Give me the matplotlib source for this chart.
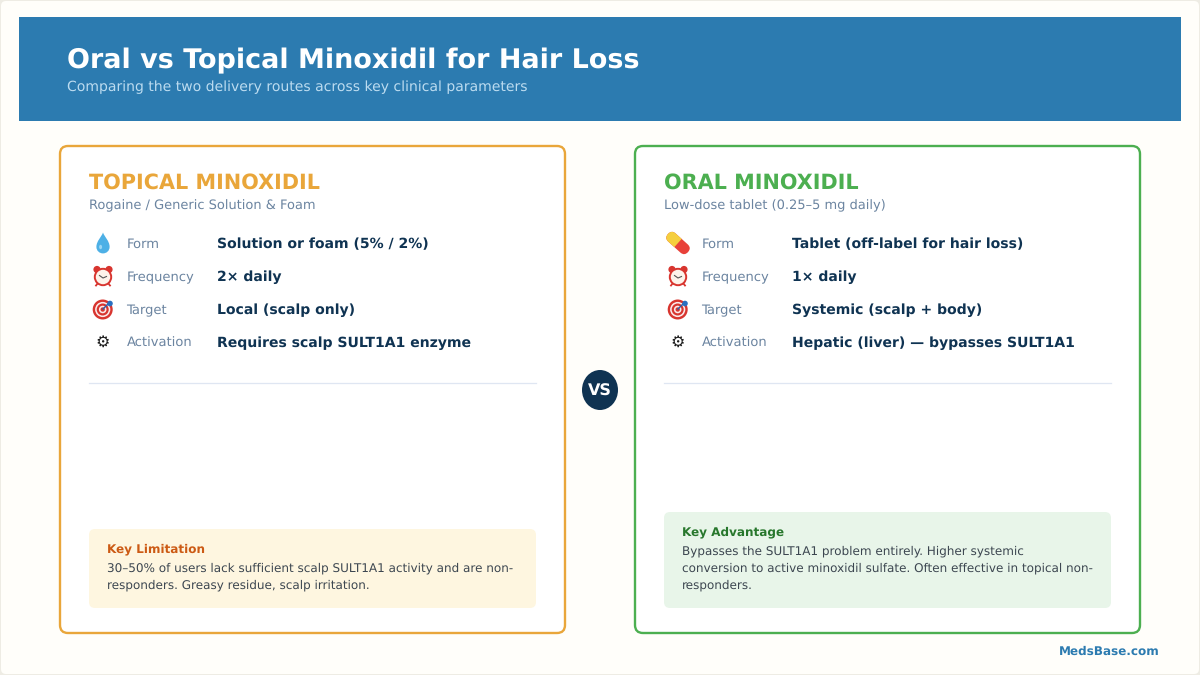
import matplotlib
matplotlib.use("Agg")
import matplotlib.pyplot as plt
from matplotlib.patches import FancyBboxPatch, Rectangle, Circle, Ellipse, PathPatch
from matplotlib.path import Path
from matplotlib.transforms import Affine2D

TITLE = "Oral vs Topical Minoxidil for Hair Loss"
SUBTITLE = "Comparing the two delivery routes across key clinical parameters"
ROW_LABELS = ["Form", "Frequency", "Target", "Activation"]
TOPICAL_VALUES = ["Solution or foam (5% / 2%)", "2× daily", "Local (scalp only)", "Requires scalp SULT1A1 enzyme"]
ORAL_VALUES = ["Tablet (off-label for hair loss)", "1× daily", "Systemic (scalp + body)", "Hepatic (liver) — bypasses SULT1A1"]
TOPICAL_NOTE = ["30–50% of users lack sufficient scalp SULT1A1 activity and are non-",
                "responders. Greasy residue, scalp irritation."]
ORAL_NOTE = ["Bypasses the SULT1A1 problem entirely. Higher systemic",
             "conversion to active minoxidil sulfate. Often effective in topical non-",
             "responders."]

NAVY = "#0f3352"
GREY = "#6b84a0"
ORANGE = "#e9a63a"
GREEN = "#4caf50"
BLUE = "#2c7bb0"
RED = "#d8352f"

plt.rcParams["text.hinting"] = "none"
plt.rcParams["text.hinting_factor"] = 8

fig = plt.figure(figsize=(12, 6.75), dpi=100, facecolor="#eeece4")
ax = fig.add_axes([0, 0, 1, 1])
ax.set_xlim(0, 1200)
ax.set_ylim(675, 0)
ax.axis("off")


def txt(x, y, s, px, color, bold=False, **kw):
    ax.text(x, y, s, fontsize=px * 0.72, color=color, family="DejaVu Sans",
            fontweight="bold" if bold else "normal", va="baseline", **kw)


def rbox(x, y, w, h, r, fc, ec="none", lw=0, z=1):
    ax.add_patch(FancyBboxPatch((x + r, y + r), w - 2 * r, h - 2 * r,
                                boxstyle=f"round,pad={r},rounding_size={r}",
                                fc=fc, ec=ec, lw=lw, zorder=z))


def drop(x, y):
    verts = [(x, y - 10.5), (x + 1.5, y - 6), (x + 6.6, y - 2), (x + 6.6, y + 3.8),
             (x + 6.6, y + 8), (x + 3.4, y + 10.4), (x, y + 10.4),
             (x - 3.4, y + 10.4), (x - 6.6, y + 8), (x - 6.6, y + 3.8),
             (x - 6.6, y - 2), (x - 1.5, y - 6), (x, y - 10.5)]
    codes = [Path.MOVETO] + [Path.CURVE4] * 12
    ax.add_patch(PathPatch(Path(verts, codes), fc="#4db0e6", ec="none", zorder=3))
    ax.add_patch(Ellipse((x - 2.4, y + 4), 3, 4.4, fc="#9bd6f3", ec="none", zorder=4))


def clock(x, y):
    ax.add_patch(Circle((x - 6, y - 6.5), 3.6, fc=RED, ec="none", zorder=3))
    ax.add_patch(Circle((x + 6, y - 6.5), 3.6, fc=RED, ec="none", zorder=3))
    ax.plot([x - 5, x - 7], [y + 7, y + 9.5], color=RED, lw=1.3, zorder=3)
    ax.plot([x + 5, x + 7], [y + 7, y + 9.5], color=RED, lw=1.3, zorder=3)
    ax.add_patch(Circle((x, y + 1), 8.2, fc="#fdf3ea", ec=RED, lw=1.4, zorder=4))
    ax.plot([x - 3.5, x, x + 3.5], [y - 0.5, y + 2, y + 0.5], color="#555555", lw=0.8, zorder=5)


def target(x, y):
    for r, c in [(10, RED), (7.6, "#fbeaea"), (6, RED), (3.8, "#fbeaea"), (2.2, RED)]:
        ax.add_patch(Circle((x - 0.3, y + 0.5), r, fc=c, ec="none", zorder=3))
    ax.plot([x, x + 6], [y, y - 6], color="#2a5ea8", lw=1, zorder=4)
    ax.add_patch(Circle((x + 7, y - 5.5), 2.8, fc="#2a6fc0", ec="none", zorder=5))


def pill(x, y):
    rot = Affine2D().rotate_deg_around(x, y, 42) + ax.transData
    body = FancyBboxPatch((x - 8, y), 16, 0, boxstyle="round,pad=5.5,rounding_size=5.4",
                          fc="#e8413a", ec="none", zorder=3, transform=rot)
    ax.add_patch(body)
    half = Rectangle((x - 14, y - 6), 14, 12, fc="#f5cf3e", ec="none", zorder=4, transform=rot)
    ax.add_patch(half)
    half.set_clip_path(body)


def card(x, head, head_color, sub, values, note_title, note_title_color, note, note_y, note_h, note_bg, icon, border):
    rbox(x, 146, 505, 487, 8, "white", ec=border, lw=1.7)
    c = x - 1
    txt(c + 30, 189, head, 20.8, head_color, bold=True)
    txt(c + 30, 209, sub, 13, GREY)
    for i, (label, value) in enumerate(zip(ROW_LABELS, values)):
        base = 248 + 33 * i
        txt(c + 67.5, base, label, 13.1, GREY)
        txt(c + 158, base, value, 13.96, NAVY, bold=True)
    icon(c + 44, 243)
    clock(c + 44, 276)
    target(c + 44, 309)
    txt(c + 44, 347, "⚙", 16, "#1a1a1a", ha="center")
    ax.plot([c + 30, c + 476.5], [383, 383], color="#dfe6f2", lw=0.9, zorder=2)
    rbox(c + 30, note_y, 447, note_h, 6, note_bg, z=2)
    txt(c + 48, note_y + 23.6, note_title, 12, note_title_color, bold=True)
    for j, line in enumerate(note):
        txt(c + 48, note_y + 42.7 + 17 * j, line, 11.98, "#3c4650")


# page + header
rbox(1, 1, 1198, 673, 5, "#fffefa")
ax.add_patch(Rectangle((19, 17), 1162, 104, fc=BLUE, ec="none", zorder=2))
txt(67, 68, TITLE, 27, "white", bold=True, zorder=3)
txt(67, 91, SUBTITLE, 13.97, "#bcdcf0", zorder=3)

card(60, "TOPICAL MINOXIDIL", ORANGE, "Rogaine / Generic Solution & Foam", TOPICAL_VALUES,
     "Key Limitation", "#cc5a14", TOPICAL_NOTE, 529, 79, "#fef6e0", drop, ORANGE)
card(635, "ORAL MINOXIDIL", GREEN, "Low-dose tablet (0.25–5 mg daily)", ORAL_VALUES,
     "Key Advantage", "#27772c", ORAL_NOTE, 512, 96, "#e8f5e9", pill, GREEN)

ax.add_patch(Ellipse((600, 390), 36, 40, fc=NAVY, ec="none", zorder=3))
ax.text(600, 389.5, "VS", fontsize=11.5, color="white", fontweight="bold", ha="center", va="center_baseline", zorder=4)

txt(1160, 655, "MedsBase.com", 12, BLUE, bold=True, ha="right")

fig.savefig("out.png", dpi=100, facecolor=fig.get_facecolor())
plt.close(fig)
